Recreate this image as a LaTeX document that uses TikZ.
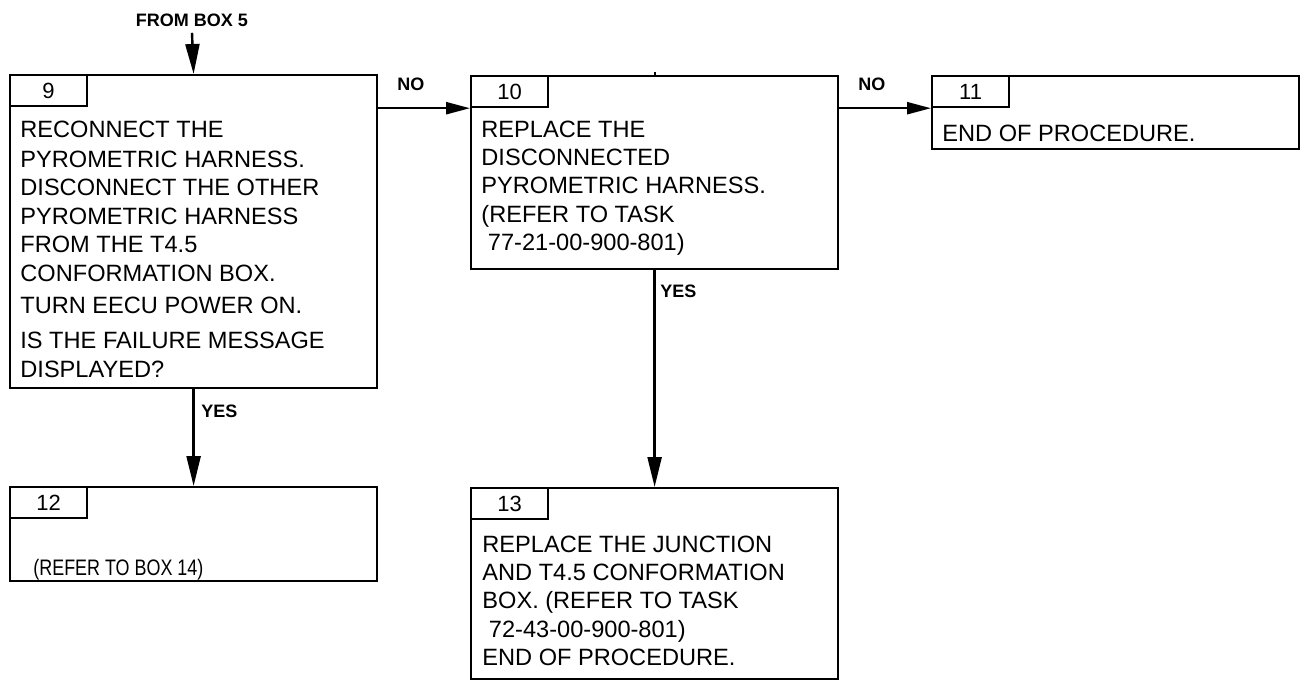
\documentclass[tikz,border=0pt]{standalone}
\usepackage{fontspec}
\setmainfont{Liberation Sans}
\newfontfamily\narrowfont[FakeStretch=0.8]{Liberation Sans}
\usetikzlibrary{arrows.meta,positioning}

\begin{document}
\begin{tikzpicture}[x=0.5pt,y=-0.5pt,
	stepbox/.style={draw, line width=1.1pt, anchor=north west, inner sep=0pt, minimum width=183.5pt},
	tabbox/.style={draw, line width=1.1pt, anchor=north west, inner sep=0pt,
		minimum width=38.5pt, minimum height=15.5pt, font=\fontsize{11}{13}\selectfont},
	boxtext/.style={anchor=base west, inner sep=0pt},
	lbl/.style={inner sep=0pt, font=\fontsize{9}{11}\selectfont\bfseries},
	vline/.style={line width=1.2pt, -{Triangle[length=15pt,width=7pt]}},
	hline/.style={line width=1.2pt, -{Triangle[length=12pt,width=6pt]}}]
	\useasboundingbox (0,0) rectangle (1304,680);
	\newcommand{\steptext}[2]{\parbox[t]{#1}{\raggedright\fontsize{11.8}{14.2}\selectfont #2}}
	
	% Boxes
	\node[stepbox, minimum height=156.5pt] (b9) at (9,74) {};
	\node[stepbox, minimum height=96.5pt] (b10) at (470,75) {};
	\node[stepbox, minimum height=36.5pt] (b11) at (931,75) {};
	\node[stepbox, minimum height=47pt] (b12) at (9,486) {};
	\node[stepbox, minimum height=95.5pt] (b13) at (470,487) {};
	
	% Box numbers
	\node[tabbox] (tab9) at (b9.north west) {9};
	\node[tabbox] (tab10) at (b10.north west) {10};
	\node[tabbox] (tab11) at (b11.north west) {11};
	\node[tabbox] (tab12) at (b12.north west) {12};
	\node[tabbox] (tab13) at (b13.north west) {13};
	
	% Box texts
	\node[boxtext] (t9) at (20,137) {\steptext{175pt}{RECONNECT THE\\[1pt]
			PYROMETRIC HARNESS.\\
			DISCONNECT THE OTHER\\
			PYROMETRIC HARNESS\\
			FROM THE T4.5\\
			CONFORMATION BOX.\\[2pt]
			TURN EECU POWER ON.\\[3.5pt]
			IS THE FAILURE MESSAGE\\
			DISPLAYED?}};
	\node[boxtext] (t10) at (481,137) {\steptext{175pt}{REPLACE THE\\
			DISCONNECTED\\
			PYROMETRIC HARNESS.\\
			(REFER TO TASK\\
			\ 77-21-00-900-801)}};
	\node[boxtext] (t11) at (942,141) {\steptext{175pt}{END OF PROCEDURE.}};
	\node[boxtext, font=\narrowfont\fontsize{11.2}{13}\selectfont] (t12) at (33,575) {(REFER TO BOX 14)};
	\node[boxtext] (t13) at (482,552) {\steptext{175pt}{REPLACE THE JUNCTION\\
			AND T4.5 CONFORMATION\\
			BOX. (REFER TO TASK\\
			\ 72-43-00-900-801)\\
			END OF PROCEDURE.}};
	
	% Flow
	\node[lbl, inner sep=3pt] (from5) at (192,20) {FROM BOX 5};
	\draw[vline] (from5.south) -- (b9.north);
	\draw[hline] (b9.east |- tab10.south west) -- (tab10.south west);
	\draw[hline] (b10.east |- tab11.south west) -- (tab11.south west);
	\draw[vline] (b9.south) -- (b12.north);
	\draw[vline] (b10.south) -- (b13.north);
	\draw[line width=1.1pt] (b10.north) -- ++(0,-3);
	
	% Labels
	\node[lbl, anchor=base west] (no9) at (397,90) {NO};
	\node[lbl, anchor=base west] (no10) at (858,90) {NO};
	\node[lbl, anchor=base west] (yes9) at (201,417) {YES};
	\node[lbl, anchor=base west] (yes10) at (660,297) {YES};
\end{tikzpicture}
\end{document}
